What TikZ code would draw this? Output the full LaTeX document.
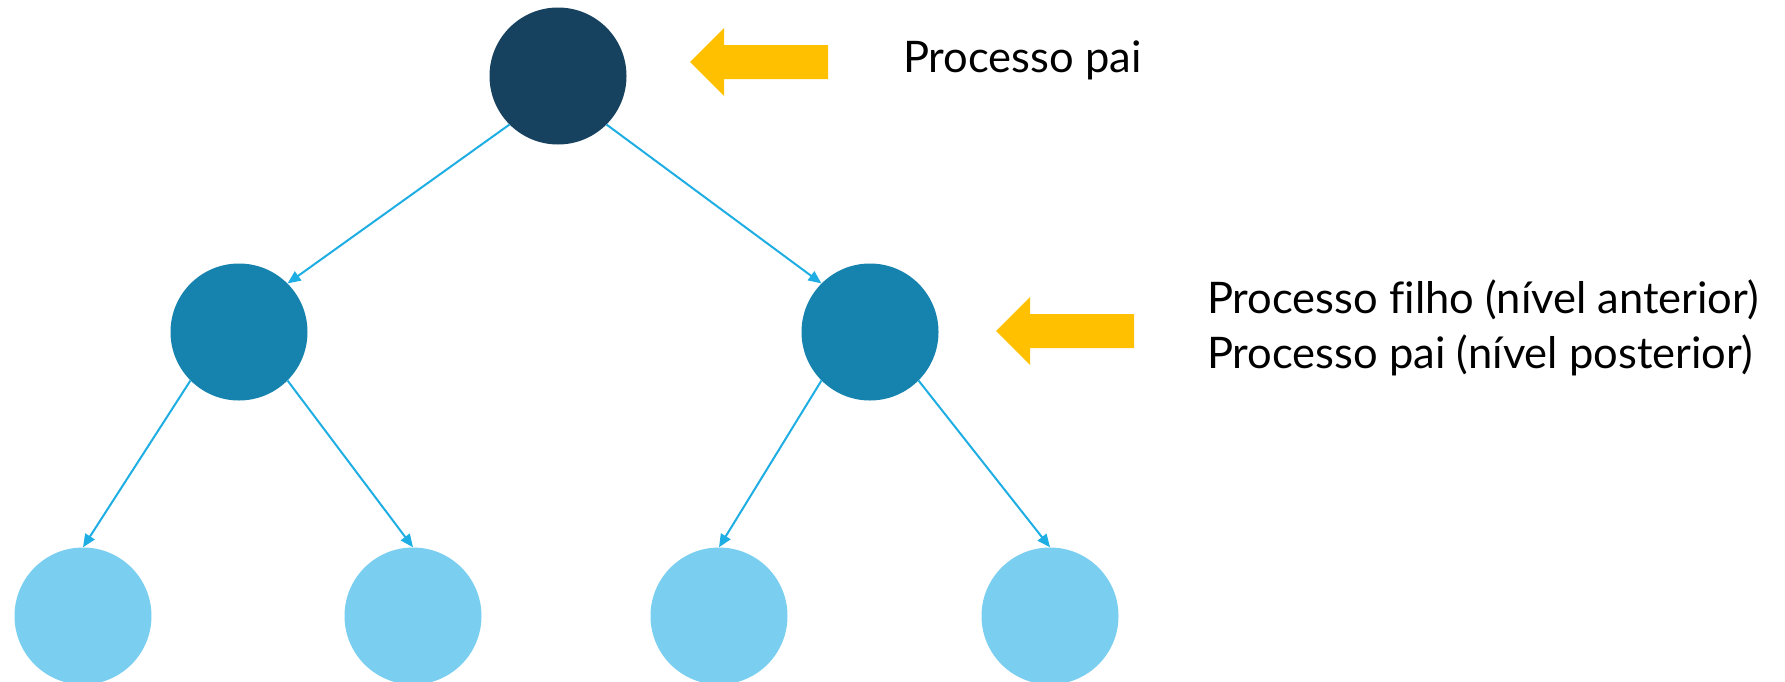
\documentclass[tikz,border=0pt]{standalone}
\usepackage{fontspec}
\setmainfont[Ligatures=NoCommon]{Lato}
\usetikzlibrary{arrows.meta}
\definecolor{rootblue}{HTML}{17425F}
\definecolor{midblue}{HTML}{1683AE}
\definecolor{leafblue}{HTML}{7ACEF0}
\definecolor{linkblue}{HTML}{1EAEE3}
\definecolor{pointer}{HTML}{FFC000}
\tikzset{
  proc/.style={circle, inner sep=0pt, minimum size=137pt},
  rootproc/.style={proc, fill=rootblue},
  midproc/.style={proc, fill=midblue},
  leafproc/.style={proc, fill=leafblue},
  link/.style={draw=linkblue, line width=2pt, -{Triangle[length=13pt,width=11pt]}},
  pointerfill/.style={fill=pointer},
  caption/.style={anchor=west, inner sep=0pt, font=\fontsize{43.5}{55}\selectfont, align=left}
}
\begin{document}
\begin{tikzpicture}[x=1pt, y=-1pt]
\useasboundingbox (0,0) rectangle (1785,681);

% process tree
\node[rootproc] (root) at (558,76) {};
\node[midproc] (left) at (239,332) {};
\node[midproc] (right) at (870,332) {};
\node[leafproc] (l1) at (83,616) {};
\node[leafproc] (l2) at (413,616) {};
\node[leafproc] (l3) at (719,616) {};
\node[leafproc] (l4) at (1050,616) {};

\draw[link] (root.south west) -- (left.north east);
\draw[link] (root.south east) -- (right.north west);
\draw[link] (left.south west) -- (l1.north);
\draw[link] (left.south east) -- (l2.north);
\draw[link] (right.south west) -- (l3.north);
\draw[link] (right.south east) -- (l4.north);

% yellow pointers
\fill[pointerfill] (690,62) -- (724,28) -- (724,45) -- (828,45) -- (828,79) -- (724,79) -- (724,96) -- cycle;
\fill[pointerfill] (996,331) -- (1030,297) -- (1030,314) -- (1134,314) -- (1134,348) -- (1030,348) -- (1030,365) -- cycle;

% captions
\node[caption] (cap1) at (903,60) {Processo pai};
\node[caption] (cap2) at (1207,328) {Processo filho (nível anterior)\\Processo pai (nível posterior)};
\end{tikzpicture}
\end{document}
